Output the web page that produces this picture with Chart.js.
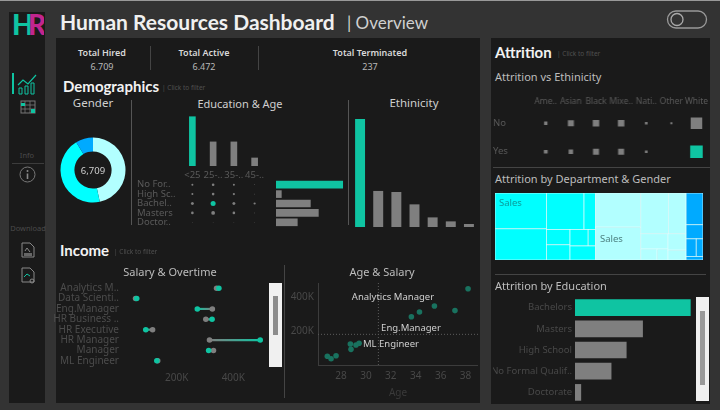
<!DOCTYPE html>
<html>
<head>
<meta charset="utf-8">
<title>Human Resources Dashboard</title>
<script src="https://cdn.jsdelivr.net/npm/chart.js@4"></script>
<style>
  html, body { margin: 0; padding: 0; background: #333; overflow: hidden; }
  #page { position: relative; width: 720px; height: 410px; font-family: "Noto Sans", sans-serif; overflow: hidden; }
  .box, canvas, .txt, svg { position: absolute; }
  .txt { white-space: nowrap; line-height: 1; }
  .head { font-family: Lato, sans-serif; }
</style>
</head>
<body>
<div id="page"></div>
<script>
const teal = "#0fc4a2";
const gray = "#7f7f7f";
const cyan = "#00ffff";
const lightCyan = "#b2ffff";
const blue = "#00aaff";
const dimText = "#5a5a5a";

// Demographics
const genderLabels = ["Female", "Male", "Non-Binary"];
const genderValues = [3130, 3000, 579];
const ageGroups = ["<25", "25-..", "35-..", "45-.."];
const ageValues = [3130, 1530, 1530, 510];
const eduShort = ["No For..", "High Sc..", "Bachel..", "Masters", "Doctor.."];
const eduValues = [2630, 210, 1355, 1670, 840];
const eduAgeCounts = [
  [225, 380, 225, 36],
  [225, 380, 270, 36],
  [500, 1400, 500, 270],
  [380, 800, 380, 36],
  [20, 20, 20, 20]
];
const ethnicityValues = [3316, 1100, 1068, 687, 286, 163, 83];

// Income
const jobRoles = ["Analytics M..", "Data Scienti..", "Eng.Manager", "HR Business ..", "HR Executive", "HR Manager", "Manager", "ML Engineer"];
const salaryOvertime = [349000, 59000, 273000, 325000, 91000, 495000, 313000, 130000];
const salaryNoOvertime = [341000, 55000, 326000, 303000, 115000, 316000, 330000, 133000];
const salaryTicks = [200000, 400000];
const ageTicks = [28, 30, 32, 34, 36, 38];
const roleAges = [38.2, 37.15, 35.5, 34.3, 33.65, 29.45, 29.2, 28.75, 28.8, 27.6, 26.9, 27.2];
const roleSalaries = [453000, 323000, 350000, 315000, 287000, 129000, 119000, 125000, 93000, 55000, 52000, 37000];
const avgAge = 31;
const avgSalary = 182000;

// Attrition
const attritionEthnicities = ["Ame..", "Asian", "Black", "Mixe..", "Nati..", "Other", "White"];
const attritionRows = ["No", "Yes"];
const attritionNo = [11, 36, 42, 42, 7, 4, 132];
const attritionYes = [14, 20, 36, 36, 7, 0, 156];
const eduLabels = ["Bachelors", "Masters", "High School", "No Formal Qualif..", "Doctorate"];
const eduAttrition = [99, 58, 44, 31, 5];
// nested lists alternate between side by side and stacked
const cyanCells = [[31, 27], [[23, 7], [[6, 6], [[5, 2], 6]]]];
const lightCells = [[26, 25], [[19, 12], [[7, [3, 2]], [5, 3]]]];
const blueCells = [[9, 4, [3, 2], 1]];

const page = document.getElementById("page");

function box(x, y, w, h, color) {
  const d = document.createElement("div");
  d.className = "box";
  d.style.cssText = `left:${x}px;top:${y}px;width:${w}px;height:${h}px;background:${color}`;
  page.appendChild(d);
  return d;
}

// cy is the vertical middle of the text, align l/c/r says what x means
function text(str, x, cy, size, color, align = "l", weight = 400, cls = "txt") {
  const d = document.createElement("div");
  d.className = cls === "txt" ? "txt" : "txt " + cls;
  d.textContent = str;
  const tx = align === "c" ? "-50%" : align === "r" ? "-100%" : "0";
  d.style.cssText = `left:${x}px;top:${cy}px;font-size:${size}px;color:${color};font-weight:${weight};transform:translate(${tx},-50%)`;
  page.appendChild(d);
  return d;
}

function svg(x, y, w, h, inner) {
  page.insertAdjacentHTML("beforeend", `<svg style="left:${x}px;top:${y}px" width="${w}" height="${h}" viewBox="0 0 ${w} ${h}" fill="none">${inner}</svg>`);
}

function canvas(x, y, w, h) {
  const c = document.createElement("canvas");
  c.width = w;
  c.height = h;
  c.style.cssText = `left:${x}px;top:${y}px;width:${w}px;height:${h}px`;
  page.appendChild(c);
  return c.getContext("2d");
}

function tickFont(size) {
  return { family: '"Noto Sans", sans-serif', size };
}

// keeps the plot area where it is wanted, Chart.js pads for tick labels otherwise
function pinAxis(prop, size) {
  return s => {
    s[prop] = size;
    s.paddingTop = s.paddingBottom = s.paddingLeft = s.paddingRight = 0;
  };
}

// with min and max set Chart.js thins the ticks near the ends, so give them itself
function fixedTicks(values) {
  return s => {
    s.ticks = values.map(value => ({ value }));
  };
}

const baseOptions = {
  responsive: false,
  animation: false,
  layout: { padding: 0, autoPadding: false },
  plugins: { legend: { display: false }, tooltip: { enabled: false } }
};
const hiddenAxis = { display: false };
const plainGrid = { display: false, drawTicks: false };

// ---- frame ----
box(0, 0, 720, 1, "#999");
box(9, 12, 36, 391, "#1a1a1a");
box(56, 38, 424, 365, "#1a1a1a");
box(491, 38, 219, 366, "#1a1a1a");

svg(12, 12, 32, 26, `<text x="0" y="23" font-family="Lato" font-weight="900" font-size="28" fill="${teal}">H</text><text x="16" y="23" font-family="Lato" font-weight="900" font-size="28" fill="#c2258f">R</text>`);
text("Human Resources Dashboard", 60, 21, 21, "#f0f0f0", "l", 700, "head");
text("| Overview", 347, 22, 17, "#d0d0d0", "l", 400, "head");

svg(666, 9, 44, 22, '<rect x="1.5" y="2" width="39" height="17" rx="8.5" stroke="#999" stroke-width="1.3"/><circle cx="11" cy="10.5" r="6" stroke="#aaa" stroke-width="1.3"/>');

// side icons
box(12, 73, 2, 21, teal);
svg(17, 72, 22, 23, '<path d="M1 13 L6 8 L11 12 L19 3" stroke="' + teal + '" stroke-width="1.2"/><path d="M2 22V16H5V22ZM8 22V14H11V22ZM14 22V11H17V22Z" stroke="' + teal + '" stroke-width="1"/>');
svg(20, 100, 16, 14, '<rect x="1" y="1" width="14" height="12" stroke="#777"/><path d="M1 5H15M1 9H15M5 1V13M10 1V13" stroke="#777" stroke-width=".8"/><rect x="1" y="3" width="4" height="3" fill="' + teal + '"/><rect x="11" y="9" width="4" height="4" fill="' + teal + '"/>');
text("Info", 27, 156, 7.5, "#4a4a4a", "c");
box(12, 163, 32, 1, "#3c3c3c");
svg(18, 165, 20, 20, '<circle cx="9.5" cy="9.5" r="7.5" stroke="#777"/><path d="M9.5 8.5V14" stroke="#888" stroke-width="1.6"/><circle cx="9.5" cy="6" r="1" fill="#888"/>');
text("Download", 28, 229, 7.5, "#4a4a4a", "c");
svg(20, 241, 16, 19, '<path d="M2 2H10L14 6V16H2Z" stroke="#888"/><path d="M5 10L7 7L10 11" stroke="#888"/><rect x="4" y="12" width="8" height="3" fill="#666"/>');
svg(20, 266, 16, 19, '<path d="M2 2H10L14 6V16H2Z" stroke="#888"/><path d="M4 11L7 8L10 10" stroke="' + teal + '"/><circle cx="12" cy="15" r="2" stroke="#888"/>');

// ---- kpis ----
text("Total Hired", 102, 52, 9, "#d8d8d8", "c", 600);
text("6.709", 102, 66, 9, "#b8b8b8", "c");
text("Total Active", 204, 52, 9, "#d8d8d8", "c", 600);
text("6.472", 204, 66, 9, "#b8b8b8", "c");
text("Total Terminated", 370, 52, 9, "#d8d8d8", "c", 600);
text("237", 370, 66, 9, "#b8b8b8", "c");
box(150, 46, 1, 24, "#444");
box(258, 46, 1, 24, "#444");

// ---- demographics ----
text("Demographics", 63, 85.5, 15, "#f2f2f2", "l", 700, "head");
text("| Click to filter", 162, 88, 6.5, "#505050");
text("Gender", 93, 103, 11.5, "#cfcfcf", "c");
text("Education & Age", 240, 103, 11, "#cfcfcf", "c");
text("Ethinicity", 414, 103, 11.5, "#cfcfcf", "c");
box(131, 100, 1, 125, "#555");
box(348, 100, 1, 125, "#555");

new Chart(canvas(58, 135, 70, 70), {
  type: "doughnut",
  data: {
    labels: genderLabels,
    datasets: [{ data: genderValues, backgroundColor: [lightCyan, cyan, blue], borderWidth: 0 }]
  },
  options: { ...baseOptions, radius: 32.5, cutout: 20 }
});
text("6,709", 93, 171, 9.5, "#cfcfcf", "c");

new Chart(canvas(182, 112, 83, 70), {
  type: "bar",
  data: {
    labels: ageGroups,
    datasets: [{ data: ageValues, backgroundColor: [teal, gray, gray, gray], barThickness: 6 }]
  },
  options: {
    ...baseOptions,
    scales: {
      x: {
        grid: plainGrid, border: { display: false },
        afterFit: pinAxis("height", 16),
        ticks: { color: dimText, font: tickFont(9.5), padding: 4, maxRotation: 0, autoSkip: false }
      },
      y: { display: false, min: 0, max: 3430 }
    }
  }
});

const matrixPoints = [];
eduAgeCounts.forEach((row, r) => row.forEach((v, a) => {
  matrixPoints.push({ x: ageGroups[a], y: eduShort[r], v });
}));
new Chart(canvas(137, 180.3, 128, 47.2), {
  type: "scatter",
  data: {
    datasets: [{
      data: matrixPoints,
      pointRadius: c => Math.sqrt(c.raw.v) * 0.067,
      pointBackgroundColor: c => (c.raw.v === 1400 ? teal : gray),
      pointBorderWidth: 0
    }]
  },
  options: {
    ...baseOptions,
    scales: {
      x: { type: "category", labels: ageGroups, offset: true, display: false },
      y: {
        type: "category", labels: eduShort, offset: true,
        grid: plainGrid, border: { display: false },
        afterFit: pinAxis("width", 45),
        ticks: { color: dimText, font: tickFont(9.5), padding: 0, crossAlign: "far", autoSkip: false }
      }
    }
  }
});

new Chart(canvas(276, 180.3, 70, 47.2), {
  type: "bar",
  data: {
    labels: eduShort,
    datasets: [{ data: eduValues, backgroundColor: [teal, gray, gray, gray, gray], barThickness: 7 }]
  },
  options: {
    ...baseOptions,
    indexAxis: "y",
    scales: { x: { display: false, min: 0, max: 2760 }, y: hiddenAxis }
  }
});

new Chart(canvas(351, 115, 127, 112), {
  type: "bar",
  data: {
    labels: attritionEthnicities,
    datasets: [{ data: ethnicityValues, backgroundColor: [teal, gray, gray, gray, gray, gray, gray], barThickness: 9.3 }]
  },
  options: {
    ...baseOptions,
    scales: { x: hiddenAxis, y: { display: false, min: 0, max: 3448 } }
  }
});

// ---- income ----
text("Income", 60, 250, 15, "#f2f2f2", "l", 700, "head");
text("| Click to filter", 114, 252, 6.5, "#505050");
text("Salary & Overtime", 170, 271, 11, "#bdbdbd", "c");
text("Age & Salary", 382, 271, 11, "#bdbdbd", "c");
box(284, 265, 1, 133, "#444");

new Chart(canvas(40, 282.5, 229, 105), {
  type: "bar",
  data: {
    labels: jobRoles,
    datasets: [
      { type: "line", showLine: false, data: salaryOvertime, pointRadius: 2.8, pointBackgroundColor: teal, pointBorderWidth: 0 },
      { type: "line", showLine: false, data: salaryNoOvertime, pointRadius: 2.8, pointBackgroundColor: gray, pointBorderWidth: 0 },
      {
        data: salaryOvertime.map((v, i) => [v, salaryNoOvertime[i]]),
        barThickness: 1.5,
        backgroundColor: c => {
          if (c.dataIndex === undefined) return gray;
          const xs = c.chart.scales.x;
          const a = xs.getPixelForValue(salaryOvertime[c.dataIndex]);
          const b = xs.getPixelForValue(salaryNoOvertime[c.dataIndex]);
          if (!Number.isFinite(a) || !Number.isFinite(b)) return gray;
          const g = c.chart.ctx.createLinearGradient(a, 0, b, 0);
          g.addColorStop(0, teal);
          g.addColorStop(1, gray);
          return g;
        }
      }
    ]
  },
  options: {
    ...baseOptions,
    indexAxis: "y",
    scales: {
      x: {
        min: 0, max: 526000,
        grid: plainGrid, border: { display: false },
        afterBuildTicks: fixedTicks(salaryTicks),
        afterFit: pinAxis("height", 22),
        ticks: { color: "#484848", font: tickFont(10), padding: 6, maxRotation: 0, autoSkip: false, callback: v => v / 1000 + "K" }
      },
      y: {
        grid: plainGrid, border: { display: false },
        afterFit: pinAxis("width", 80),
        ticks: { color: "#4c4c4c", font: tickFont(10), padding: 1, autoSkip: false }
      }
    }
  }
});

box(269, 283, 13, 84, "#f0f0f0");
box(273, 296, 5, 39, "#8c8c8c");

const agePoints = roleAges.map((a, i) => ({ x: a, y: roleSalaries[i] }));
const ageMin = 26.15;
const ageMax = 39;
const salaryMax = 487000;
new Chart(canvas(285, 283, 193, 116), {
  type: "scatter",
  data: {
    datasets: [
      { data: agePoints, pointRadius: 2.8, pointBackgroundColor: "#19725f", pointBorderWidth: 0 },
      { data: [{ x: avgAge, y: 0 }, { x: avgAge, y: salaryMax }], showLine: true, pointRadius: 0, borderColor: "#5c5c5c", borderWidth: 1, borderDash: [1, 2] },
      { data: [{ x: ageMin, y: avgSalary }, { x: ageMax, y: avgSalary }], showLine: true, pointRadius: 0, borderColor: "#5c5c5c", borderWidth: 1, borderDash: [1, 2] }
    ]
  },
  options: {
    ...baseOptions,
    scales: {
      x: {
        min: ageMin, max: ageMax,
        grid: plainGrid, border: { color: "#3c3c3c" },
        title: { display: true, text: "Age", color: "#3a3a3a", font: tickFont(10), padding: { top: 4, bottom: 0 } },
        afterBuildTicks: fixedTicks(ageTicks),
        afterFit: pinAxis("height", 34),
        ticks: { color: "#484848", font: tickFont(10), padding: 5, maxRotation: 0, autoSkip: false }
      },
      y: {
        min: 0, max: salaryMax,
        grid: plainGrid, border: { color: "#3c3c3c" },
        afterBuildTicks: fixedTicks(salaryTicks),
        afterFit: pinAxis("width", 33),
        ticks: { color: "#484848", font: tickFont(10), padding: 4, autoSkip: false, callback: v => v / 1000 + "K" }
      }
    }
  }
});
text("Analytics Manager", 393, 297, 9.5, "#d0d0d0", "c");
text("Eng.Manager", 411, 327.5, 9.5, "#d0d0d0", "c");
text("ML Engineer", 391, 344, 9.5, "#d0d0d0", "c");

// ---- attrition ----
text("Attrition", 495, 52, 15, "#f2f2f2", "l", 700, "head");
text("| Click to filter", 557, 54, 6.5, "#505050");
text("Attrition vs Ethinicity", 495, 76, 11, "#bdbdbd");

const squarePoints = [];
attritionEthnicities.forEach((e, i) => {
  squarePoints.push({ x: e, y: "No", v: attritionNo[i], hit: false });
  squarePoints.push({ x: e, y: "Yes", v: attritionYes[i], hit: i === 6 });
});
new Chart(canvas(493, 92.5, 215.5, 73), {
  type: "scatter",
  data: {
    datasets: [{
      data: squarePoints,
      pointStyle: "rect",
      // canvas rect side is radius * sqrt2
      pointRadius: c => Math.sqrt(c.raw.v) / Math.SQRT2,
      pointBackgroundColor: c => (c.raw.hit ? teal : gray),
      pointBorderWidth: 0
    }]
  },
  options: {
    ...baseOptions,
    scales: {
      x: {
        type: "category", labels: attritionEthnicities, position: "top", offset: true,
        grid: plainGrid, border: { display: false },
        afterFit: pinAxis("height", 16),
        ticks: { color: dimText, font: tickFont(8.5), padding: 2, maxRotation: 0, autoSkip: false }
      },
      y: {
        type: "category", labels: attritionRows, offset: true,
        grid: plainGrid, border: { display: false },
        afterFit: pinAxis("width", 40),
        ticks: { color: dimText, font: tickFont(9.5), padding: 0, crossAlign: "far" }
      }
    }
  }
});

box(493, 167, 217, 1, "#444");
text("Attrition by Department & Gender", 495, 178, 11, "#bdbdbd");

function nodeTotal(node) {
  return Array.isArray(node) ? node.reduce((s, n) => s + nodeTotal(n), 0) : node;
}

// splits a node over its children, side by side then stacked then side by side...
function layoutCells(node, x0, x1, y0, y1, across, color, out) {
  if (!Array.isArray(node)) {
    out.push({ x0, x1, y0, y1, color });
    return;
  }
  const total = nodeTotal(node);
  let used = 0;
  node.forEach(child => {
    const a = used / total;
    used += nodeTotal(child);
    const b = used / total;
    if (across) layoutCells(child, x0 + (x1 - x0) * a, x0 + (x1 - x0) * b, y0, y1, false, color, out);
    else layoutCells(child, x0, x1, y0 + (y1 - y0) * a, y0 + (y1 - y0) * b, true, color, out);
  });
}

const treemapPlugin = {
  id: "treemap",
  afterDatasetsDraw(chart) {
    const { ctx, scales: { x, y } } = chart;
    const groups = [[cyanCells, cyan], [lightCells, lightCyan], [blueCells, blue]];
    const grand = nodeTotal(groups.map(g => g[0]));
    const cells = [];
    let used = 0;
    groups.forEach(([node, color]) => {
      const a = used / grand;
      used += nodeTotal(node);
      layoutCells(node, a, used / grand, 1, 0, true, color, cells);
    });
    cells.forEach(c => {
      const left = x.getPixelForValue(c.x0);
      const top = y.getPixelForValue(c.y0);
      const w = x.getPixelForValue(c.x1) - left;
      const h = y.getPixelForValue(c.y1) - top;
      ctx.fillStyle = c.color;
      ctx.fillRect(left, top, w, h);
      ctx.strokeStyle = "rgba(225,255,255,.85)";
      ctx.lineWidth = 0.8;
      ctx.strokeRect(left, top, w, h);
    });
  }
};
new Chart(canvas(495, 192.5, 208, 67), {
  type: "scatter",
  data: { datasets: [] },
  options: {
    ...baseOptions,
    scales: { x: { display: false, min: 0, max: 1 }, y: { display: false, min: 0, max: 1 } }
  },
  plugins: [treemapPlugin]
});
text("Sales", 499, 203, 9.5, "#0b9a9a");
text("Sales", 600, 239, 9.5, "#4d8080");

box(495, 274, 211, 1, "#444");
text("Attrition by Education", 495, 285, 11, "#bdbdbd");

new Chart(canvas(493, 296.7, 202, 106.3), {
  type: "bar",
  data: {
    labels: eduLabels,
    datasets: [{ data: eduAttrition, backgroundColor: [teal, gray, gray, gray, gray], barThickness: 16 }]
  },
  options: {
    ...baseOptions,
    indexAxis: "y",
    scales: {
      x: { display: false, min: 0, max: 103 },
      y: {
        grid: plainGrid, border: { display: false },
        afterFit: pinAxis("width", 82),
        ticks: { color: "#484848", font: tickFont(9.5), padding: 3, autoSkip: false }
      }
    }
  }
});
box(696, 297, 13, 104, "#f0f0f0");
box(700, 311, 5, 74, "#999");
</script>
</body>
</html>
